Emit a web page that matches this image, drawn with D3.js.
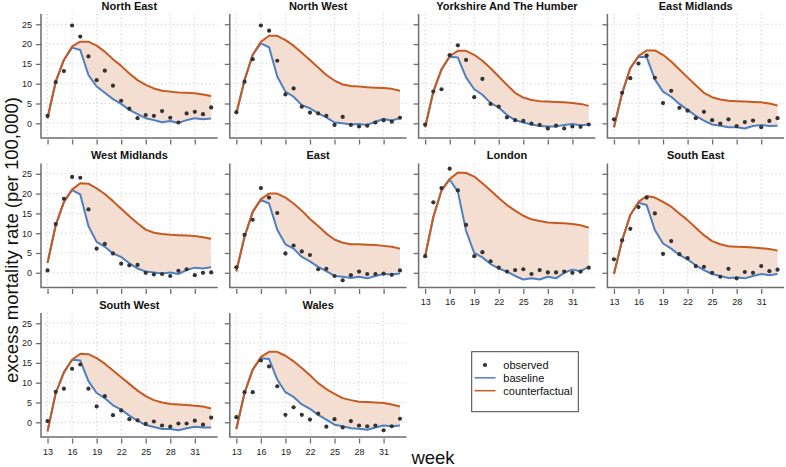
<!DOCTYPE html>
<html>
<head>
<meta charset="utf-8">
<script src="https://cdn.jsdelivr.net/npm/d3@7"></script>
<style>
  html, body { margin: 0; padding: 0; background: #fff; }
  svg { display: block; font-family: "Liberation Sans", Arial, Helvetica, sans-serif; }
</style>
</head>
<body>
<svg id="chart" width="786" height="467"></svg>
<script>
// ---------------- data ----------------
const regions = ["North East", "North West", "Yorkshire And The Humber", "East Midlands",
                 "West Midlands", "East", "London", "South East", "South West", "Wales"];
const weeks = [13,14,15,16,17,18,19,20,21,22,23,24,25,26,27,28,29,30,31,32,33];
const xTicks = [13,16,19,22,25,28,31];
const yTicks = [0,5,10,15,20,25];
const seriesNames = ["observed", "baseline", "counterfactual"];

const observed = [
  [1.9,10.4,13.2,24.7,21.9,16.9,10.9,13.3,9.5,5.7,3.7,1.3,2.1,1.9,3.1,1.4,0.2,2.5,2.9,2.3,4.0],
  [2.8,10.5,16.2,24.7,23.4,15.8,7.3,8.8,4.2,2.7,2.5,1.9,-0.4,1.6,-0.4,-0.8,-0.6,0.2,0.8,0.4,1.4],
  [-0.3,8.0,8.6,17.2,19.7,16.0,6.6,11.2,4.9,4.2,1.5,0.8,0.6,-0.1,-0.4,-1.3,-0.6,-1.3,-0.8,-0.9,-0.3],
  [1.0,7.7,11.4,15.1,17.1,11.5,5.1,8.2,3.9,3.2,1.3,2.9,0.8,-0.1,1.0,-0.7,0.3,0.7,-1.0,0.6,1.3],
  [0.6,12.3,18.7,24.2,24.0,16.0,6.1,7.3,4.9,2.3,1.9,2.0,0.0,-0.4,-0.3,-0.8,0.5,0.9,-0.6,0.0,0.1],
  [1.4,9.6,13.4,21.4,19.0,15.1,4.9,6.9,5.4,4.5,0.9,1.0,-0.8,-1.9,-0.6,0.3,-0.3,-0.3,-0.2,-0.5,0.6],
  [4.2,17.8,21.4,26.3,20.8,12.1,4.2,5.2,2.9,1.3,0.3,0.7,0.9,-0.3,0.7,0.1,0.1,0.3,0.0,0.3,1.3],
  [3.4,8.2,11.1,16.6,19.0,15.0,4.8,8.0,4.7,3.7,1.7,1.5,0.0,-1.0,1.0,-1.4,0.2,0.0,1.7,0.4,0.8],
  [0.3,7.7,8.5,13.5,14.6,8.5,4.0,6.6,1.8,3.0,0.8,0.5,-0.4,0.2,-0.8,-1.1,-0.3,-0.3,0.4,-0.6,1.2],
  [1.3,7.6,7.6,15.6,14.1,9.1,1.9,3.8,1.9,0.7,2.2,-1.1,0.8,-1.3,0.3,-0.8,-1.0,-0.8,-2.0,-1.0,0.9]
];
const baseline = [
  [1.3,10.5,16.0,19.1,18.5,12.2,9.3,7.7,6.1,4.9,3.4,2.3,1.3,0.8,0.25,0.6,0.1,0.8,1.3,1.0,1.2],
  [2.5,10.9,17.3,20.2,19.2,11.8,8.0,6.7,4.6,3.8,2.5,1.5,0.2,0.0,-0.3,-0.2,-0.4,0.4,1.1,0.7,1.3],
  [-1.0,8.0,13.6,16.8,16.6,11.6,8.6,7.2,5.1,4.0,2.1,0.8,0.2,-0.3,-0.7,-0.8,-0.8,-0.4,-0.2,-0.5,-0.3],
  [-1.0,7.6,13.9,16.8,16.7,11.1,8.0,6.7,4.9,3.4,1.9,0.7,-0.3,-0.6,-1.0,-1.0,-1.3,-0.7,-0.4,-0.7,-0.6],
  [2.5,12.0,17.9,20.9,19.8,11.8,7.8,6.6,4.9,4.0,2.4,1.1,0.3,0.1,-0.2,0.1,-0.3,0.7,1.3,1.1,1.4],
  [0.4,9.1,15.4,18.4,17.5,10.9,7.2,6.1,4.0,2.9,1.5,0.4,-0.8,-1.0,-1.3,-1.0,-1.4,-0.8,-0.3,-0.4,-0.2],
  [4.2,14.1,20.8,23.5,20.5,10.6,5.0,3.9,2.2,1.1,0.3,-0.8,-1.7,-1.4,-1.7,-1.0,-1.4,0.0,0.8,0.4,1.5],
  [-0.3,8.2,14.6,17.7,17.1,10.8,7.4,6.1,4.5,3.4,1.9,0.7,-0.3,-0.8,-1.3,-1.2,-1.4,-0.8,-0.3,-0.6,-0.3],
  [-2.3,7.4,12.6,15.8,15.6,10.4,7.4,6.1,4.3,3.2,1.7,0.4,-0.7,-1.2,-1.7,-1.7,-2.0,-1.5,-1.1,-1.3,-1.3],
  [-1.7,7.4,13.3,16.2,16.0,10.8,7.6,6.4,4.5,3.4,1.9,0.7,-0.6,-1.0,-1.5,-1.6,-1.9,-1.3,-0.8,-1.0,-0.8]
];
const counterfactual = [
  [1.3,10.5,16.0,19.4,20.6,20.6,19.6,18.1,16.2,14.5,12.6,10.9,9.7,8.8,8.2,8.0,7.8,7.7,7.6,7.3,6.9],
  [2.5,10.9,17.3,20.6,22.1,22.1,21.0,19.6,17.8,16.0,14.1,12.2,10.8,9.8,9.4,9.3,9.1,9.0,8.9,8.7,8.2],
  [-1.0,8.0,13.6,17.0,18.3,18.3,17.3,15.8,13.9,11.8,9.7,7.7,6.5,5.9,5.6,5.5,5.4,5.3,5.1,4.9,4.4],
  [-1.0,7.6,13.9,17.0,18.4,18.4,17.3,15.6,13.6,11.6,9.6,7.7,6.6,6.0,5.7,5.6,5.5,5.4,5.3,5.0,4.5],
  [2.5,12.0,17.9,21.0,22.6,22.5,21.3,19.9,18.1,16.2,14.3,12.5,10.9,10.1,9.8,9.6,9.5,9.4,9.3,9.0,8.6],
  [0.4,9.1,15.4,18.6,20.0,20.0,19.0,17.5,15.7,13.6,11.8,9.9,8.4,7.6,7.2,7.2,7.1,7.0,6.8,6.6,6.1],
  [4.2,14.1,20.8,23.7,25.3,25.2,24.3,22.6,20.8,18.9,17.1,15.7,14.4,13.5,13.1,12.7,12.6,12.5,12.3,12.0,11.4],
  [-0.3,8.2,14.6,17.9,19.4,19.0,17.9,16.7,15.0,13.3,11.4,9.5,8.0,7.2,6.7,6.6,6.5,6.4,6.2,6.0,5.6],
  [-2.3,7.4,12.6,15.8,17.3,17.2,16.2,14.8,13.1,11.4,9.7,8.0,6.6,5.6,5.0,4.6,4.5,4.4,4.2,4.0,3.5],
  [-1.7,7.4,13.3,16.5,17.8,17.8,16.8,15.4,13.7,11.9,9.9,8.4,7.2,6.1,5.6,5.2,5.1,5.0,4.9,4.5,4.0]
];

// ---------------- layout / style ----------------
const colLeft = [41, 229.8, 418.6, 607.4];
const rowTop = [14, 163.5, 313];
const plotW = 176.7, plotH = 124;
const xDomain = [12.2, 33.8];
const yDomain = [-3.71, 27.6];
const COL_OBS = "#333333", COL_BASE = "#4F7FC1", COL_CF = "#C65A21", COL_FILL = "#F4DDD1";
const AXIS_COL = "#6e6e6e";

const svg = d3.select("#chart");

regions.forEach((name, i) => {
  const r = Math.floor(i / 4), c = i % 4;
  const left = colLeft[c], top = rowTop[r];
  const x = d3.scaleLinear().domain(xDomain).range([left, left + plotW]);
  const y = d3.scaleLinear().domain(yDomain).range([top + plotH, top]);
  const g = svg.append("g");

  // grid
  g.append("g").selectAll("line").data(xTicks).join("line")
    .attr("x1", d => x(d)).attr("x2", d => x(d))
    .attr("y1", top).attr("y2", top + plotH)
    .attr("stroke", "#c8c8c8").attr("stroke-width", 1).attr("stroke-dasharray", "1,3");
  g.append("g").selectAll("line").data(yTicks).join("line")
    .attr("x1", left).attr("x2", left + plotW)
    .attr("y1", d => y(d)).attr("y2", d => y(d))
    .attr("stroke", "#c8c8c8").attr("stroke-width", 1).attr("stroke-dasharray", "1,3");

  // ribbon between baseline and counterfactual
  const band = weeks.map((w, k) => ({ w, lo: baseline[i][k], hi: counterfactual[i][k] }));
  g.append("path").datum(band)
    .attr("d", d3.area().x(d => x(d.w)).y0(d => y(d.lo)).y1(d => y(d.hi)))
    .attr("fill", COL_FILL).attr("stroke", "none");

  const line = d3.line().x(d => x(d[0])).y(d => y(d[1]));
  g.append("path").datum(weeks.map((w, k) => [w, baseline[i][k]]))
    .attr("d", line).attr("fill", "none").attr("stroke", COL_BASE).attr("stroke-width", 2)
    .attr("stroke-linejoin", "round");
  g.append("path").datum(weeks.map((w, k) => [w, counterfactual[i][k]]))
    .attr("d", line).attr("fill", "none").attr("stroke", COL_CF).attr("stroke-width", 2)
    .attr("stroke-linejoin", "round");

  g.append("g").selectAll("circle").data(weeks.map((w, k) => [w, observed[i][k]])).join("circle")
    .attr("cx", d => x(d[0])).attr("cy", d => y(d[1])).attr("r", 2.1).attr("fill", COL_OBS);

  // axes
  const showY = c === 0;
  const showX = (r === 2) || (r === 1 && c >= 2);
  const yAxis = d3.axisLeft(y).tickValues(yTicks).tickSize(5).tickPadding(4)
    .tickFormat(showY ? d3.format("d") : () => "");
  const ya = g.append("g").attr("transform", `translate(${left},0)`).call(yAxis);
  ya.select(".domain").remove();
  ya.selectAll("line").attr("stroke", AXIS_COL).attr("stroke-width", 1.3);
  ya.selectAll("text").attr("font-size", 9).attr("fill", "#222")
    .attr("font-family", "Liberation Sans, Arial, sans-serif");

  const xAxis = d3.axisBottom(x).tickValues(xTicks).tickSize(5).tickPadding(5)
    .tickFormat(showX ? d3.format("d") : () => "");
  const xa = g.append("g").attr("transform", `translate(0,${top + plotH + 1.5})`).call(xAxis);
  xa.select(".domain").remove();
  xa.selectAll("line").attr("stroke", AXIS_COL).attr("stroke-width", 1.3);
  xa.selectAll("text").attr("font-size", 9).attr("fill", "#222")
    .attr("font-family", "Liberation Sans, Arial, sans-serif");

  // L frame
  g.append("path")
    .attr("d", `M${left},${top}V${top + plotH}H${left + plotW}`)
    .attr("fill", "none").attr("stroke", AXIS_COL).attr("stroke-width", 1.5);

  // title
  g.append("text").attr("x", left + plotW / 2).attr("y", top - 4.5)
    .attr("text-anchor", "middle").attr("font-size", 11).attr("font-weight", "bold")
    .attr("fill", "#111").text(name);
});

// axis titles
svg.append("text").attr("transform", "translate(18,240) rotate(-90)")
  .attr("text-anchor", "middle").attr("font-size", 18.5).attr("fill", "#111")
  .text("excess mortality rate (per 100,000)");
svg.append("text").attr("x", 433).attr("y", 464)
  .attr("text-anchor", "middle").attr("font-size", 18.5).attr("fill", "#111").text("week");

// legend
const lg = svg.append("g");
lg.append("rect").attr("x", 471.7).attr("y", 351.7).attr("width", 106.6).attr("height", 60)
  .attr("fill", "#fff").attr("stroke", "#444").attr("stroke-width", 1);
const legendY = [365, 377.8, 390.7];
seriesNames.forEach((s, k) => {
  if (k === 0) {
    lg.append("circle").attr("cx", 485).attr("cy", legendY[k]).attr("r", 2.1).attr("fill", COL_OBS);
  } else {
    lg.append("line").attr("x1", 474.5).attr("x2", 495.5).attr("y1", legendY[k]).attr("y2", legendY[k])
      .attr("stroke", k === 1 ? COL_BASE : COL_CF).attr("stroke-width", 1.5);
  }
  lg.append("text").attr("x", 503.3).attr("y", legendY[k]).attr("dy", "0.35em")
    .attr("font-size", 11).attr("fill", "#111").text(s);
});
</script>
</body>
</html>
